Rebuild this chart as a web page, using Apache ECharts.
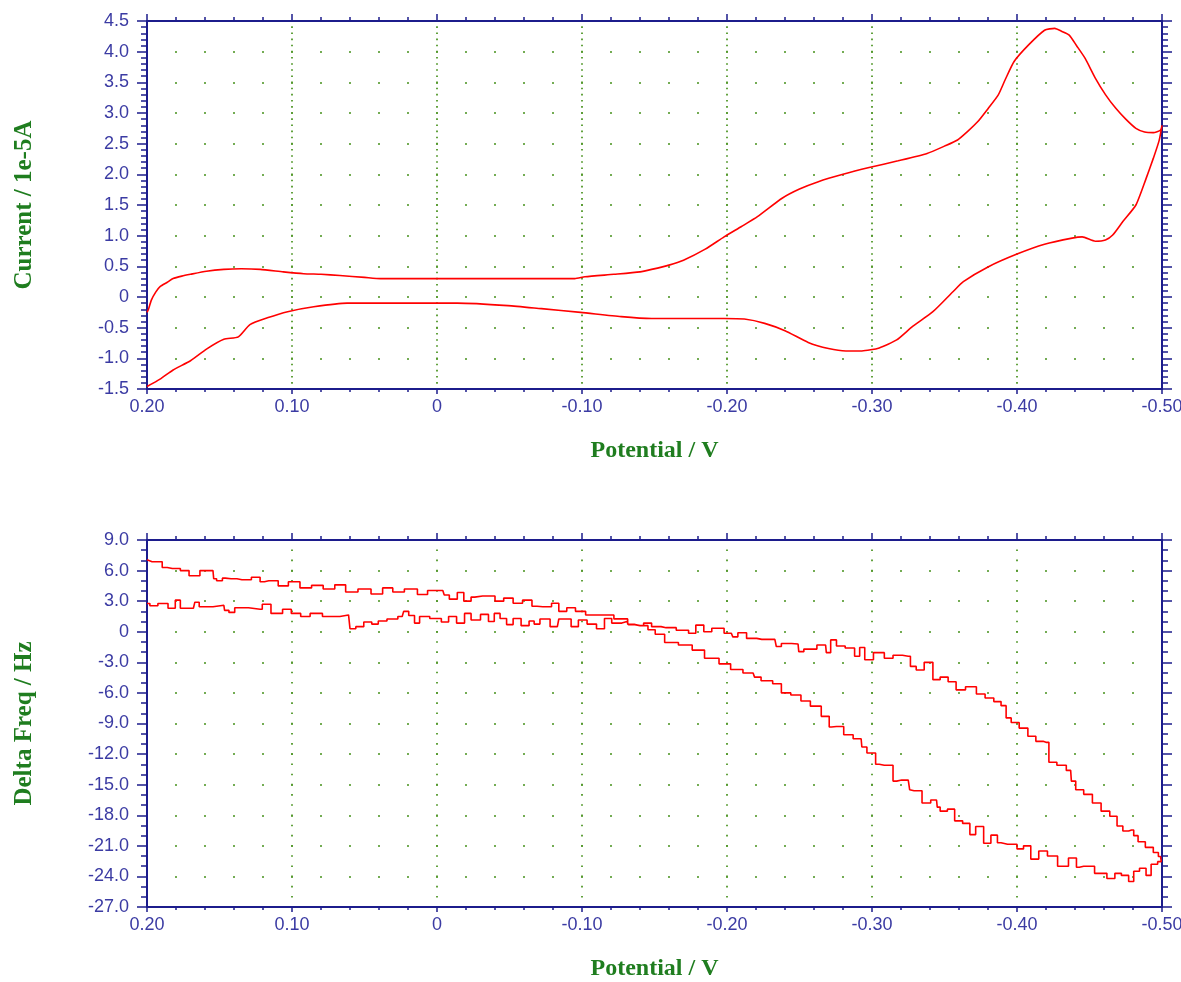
<!DOCTYPE html>
<html>
<head>
<meta charset="utf-8">
<script src="https://cdn.jsdelivr.net/npm/echarts@6/dist/echarts.min.js"></script>
<style>
html,body{margin:0;padding:0;background:#ffffff;}
#chart{width:1181px;height:982px;}
</style>
</head>
<body>
<div id="chart"></div>
<script>
// ---- Data: potential (V) and current (1e-5 A), cyclic voltammogram ----
const cvForward = [
  [0.200,-0.25],[0.199,-0.20],[0.197,-0.05],[0.194,0.08],[0.191,0.17],[0.186,0.24],[0.182,0.30],
  [0.176,0.34],[0.170,0.37],[0.159,0.42],[0.147,0.45],[0.135,0.46],[0.122,0.45],[0.106,0.41],
  [0.092,0.38],[0.080,0.37],[0.067,0.35],[0.050,0.32],[0.039,0.30],[-0.003,0.30],[-0.050,0.30],
  [-0.095,0.30],[-0.102,0.33],[-0.122,0.37],[-0.140,0.41],[-0.148,0.45],[-0.160,0.52],[-0.170,0.60],
  [-0.185,0.78],[-0.198,0.98],[-0.210,1.15],[-0.221,1.31],[-0.238,1.61],[-0.250,1.76],[-0.263,1.88],
  [-0.280,2.00],[-0.298,2.11],[-0.318,2.22],[-0.338,2.34],[-0.350,2.46],[-0.359,2.56],[-0.366,2.70],
  [-0.373,2.86],[-0.380,3.07],[-0.387,3.29],[-0.392,3.55],[-0.398,3.84],[-0.408,4.11],[-0.419,4.35],
  [-0.426,4.38],[-0.431,4.33],[-0.436,4.27],[-0.441,4.10],[-0.447,3.89],[-0.454,3.57],[-0.461,3.30],
  [-0.468,3.08],[-0.475,2.90],[-0.482,2.75],[-0.488,2.69],[-0.494,2.68],[-0.499,2.72],[-0.500,2.80]
];
const cvReverse = [
  [-0.498,2.55],[-0.494,2.26],[-0.489,1.93],[-0.482,1.50],[-0.473,1.23],[-0.466,1.01],[-0.461,0.93],
  [-0.454,0.91],[-0.445,0.98],[-0.438,0.96],[-0.419,0.86],[-0.400,0.70],[-0.380,0.49],[-0.363,0.25],
  [-0.356,0.09],[-0.342,-0.24],[-0.328,-0.48],[-0.317,-0.70],[-0.305,-0.83],[-0.293,-0.88],
  [-0.282,-0.88],[-0.270,-0.84],[-0.256,-0.74],[-0.240,-0.55],[-0.226,-0.43],[-0.212,-0.36],
  [-0.198,-0.35],[-0.148,-0.35],[-0.127,-0.32],[-0.099,-0.25],[-0.072,-0.19],[-0.049,-0.14],
  [-0.014,-0.10],[0.062,-0.10],[0.085,-0.16],[0.103,-0.24],[0.117,-0.34],[0.129,-0.45],[0.137,-0.65],
  [0.147,-0.69],[0.159,-0.85],[0.170,-1.04],[0.182,-1.19],[0.191,-1.34],[0.200,-1.46]
];
// ---- Data: potential (V) and delta frequency (Hz), QCM ----
const dfForward = [
  [0.200,2.77],[0.196,2.55],[0.189,2.77],[0.182,2.3],[0.179,3.1],[0.175,2.3],[0.168,2.3],[0.166,2.9],
  [0.162,2.45],[0.147,2.6],[0.146,2.1],[0.141,1.9],[0.138,2.35],[0.122,2.2],[0.119,2.7],[0.110,1.8],
  [0.103,2.2],[0.098,1.8],[0.090,1.5],[0.085,1.8],[0.073,1.5],[0.061,1.65],[0.059,0.3],[0.053,0.5],
  [0.048,0.95],[0.042,0.75],[0.039,1.05],[0.030,1.25],[0.024,1.5],[0.022,2.0],[0.017,1.6],[0.014,0.85],
  [0.010,1.5],[0.000,1.3],[-0.006,0.95],[-0.010,1.5],[-0.017,0.85],[-0.021,1.8],[-0.026,1.15],
  [-0.034,1.7],[-0.037,1.0],[-0.042,1.8],[-0.045,1.3],[-0.051,0.7],[-0.054,1.3],[-0.062,0.6],
  [-0.065,1.05],[-0.069,0.75],[-0.073,1.25],[-0.083,0.5],[-0.085,1.25],[-0.091,1.25],[-0.094,0.5],
  [-0.101,1.15],[-0.106,0.75],[-0.114,0.3],[-0.117,1.3],[-0.124,0.85],[-0.131,1.0],[-0.133,0.7],
  [-0.140,0.6],[-0.145,0.85],[-0.151,0.5],[-0.158,0.4],[-0.172,0.15],[-0.175,-0.15],[-0.182,0.65],
  [-0.186,0.0],[-0.193,0.35],[-0.203,-0.15],[-0.205,-0.5],[-0.210,-0.1],[-0.217,-0.65],[-0.224,-0.75],
  [-0.233,-0.75],[-0.235,-1.45],[-0.240,-1.15],[-0.249,-1.2],[-0.250,-1.95],[-0.256,-1.7],[-0.268,-1.3],
  [-0.269,-2.05],[-0.274,-0.8],[-0.277,-1.4],[-0.286,-1.6],[-0.290,-2.4],[-0.293,-1.55],[-0.297,-2.75],
  [-0.305,-2.05],[-0.312,-2.6],[-0.317,-2.3],[-0.325,-2.4],[-0.328,-3.4],[-0.333,-3.75],[-0.339,-3.0],
  [-0.345,-4.7],[-0.349,-4.45],[-0.356,-4.9],[-0.360,-5.7],[-0.369,-5.4],[-0.375,-6.1],[-0.381,-6.5],
  [-0.387,-6.85],[-0.391,-7.25],[-0.394,-8.45],[-0.398,-8.9],[-0.405,-9.45],[-0.410,-10.25],
  [-0.416,-10.75],[-0.420,-10.85],[-0.424,-12.8],[-0.431,-13.1],[-0.437,-13.6],[-0.438,-14.65],
  [-0.443,-15.5],[-0.449,-15.95],[-0.455,-16.8],[-0.461,-17.6],[-0.467,-18.1],[-0.471,-19.05],
  [-0.475,-19.55],[-0.479,-19.45],[-0.482,-20.0],[-0.485,-20.6],[-0.492,-21.15],[-0.496,-21.65],
  [-0.499,-22.05],[-0.500,-22.55]
];
const dfReverse = [
  [-0.494,-22.8],[-0.491,-23.9],[-0.487,-23.2],[-0.482,-23.5],[-0.479,-24.5],[-0.475,-23.9],
  [-0.469,-23.7],[-0.466,-24.2],[-0.458,-23.7],[-0.449,-23.0],[-0.443,-23.1],[-0.439,-22.2],
  [-0.432,-23.0],[-0.424,-22.0],[-0.418,-21.5],[-0.412,-22.3],[-0.407,-21.0],[-0.402,-21.3],
  [-0.398,-20.85],[-0.389,-20.7],[-0.384,-19.95],[-0.380,-20.75],[-0.374,-19.1],[-0.369,-19.9],
  [-0.366,-18.8],[-0.359,-18.55],[-0.355,-17.4],[-0.349,-17.6],[-0.345,-17.2],[-0.344,-16.5],
  [-0.337,-16.8],[-0.332,-15.6],[-0.326,-15.5],[-0.324,-14.55],[-0.317,-14.65],[-0.312,-13.1],
  [-0.305,-13.0],[-0.300,-11.9],[-0.293,-11.3],[-0.292,-10.5],[-0.282,-10.1],[-0.279,-9.3],
  [-0.272,-9.35],[-0.269,-8.3],[-0.261,-7.3],[-0.254,-6.8],[-0.248,-6.2],[-0.240,-6.0],[-0.235,-5.1],
  [-0.228,-4.8],[-0.219,-4.45],[-0.217,-4.05],[-0.205,-3.7],[-0.200,-3.15],[-0.189,-2.6],[-0.180,-1.8],
  [-0.172,-1.3],[-0.161,-1.05],[-0.153,-0.25],[-0.148,0.2],[-0.143,0.6],[-0.136,0.74],[-0.127,1.26],
  [-0.117,1.65],[-0.106,1.65],[-0.099,2.0],[-0.092,2.35],[-0.087,2.0],[-0.081,2.8],[-0.077,2.45],
  [-0.069,2.5],[-0.062,3.1],[-0.056,2.8],[-0.049,3.3],[-0.043,3.0],[-0.037,3.5],[-0.026,3.4],
  [-0.021,3.0],[-0.016,3.85],[-0.012,3.2],[-0.005,3.6],[-0.003,4.05],[0.004,4.05],[0.009,3.65],
  [0.018,4.2],[0.027,3.9],[0.034,4.3],[0.041,3.7],[0.050,4.2],[0.059,3.9],[0.067,4.6],[0.074,4.2],
  [0.083,4.55],[0.090,4.3],[0.099,4.9],[0.106,4.5],[0.113,5.0],[0.119,4.9],[0.125,5.35],[0.131,5.1],
  [0.138,5.2],[0.146,5.26],[0.150,5.0],[0.154,5.2],[0.155,6.0],[0.160,6.0],[0.167,5.5],[0.175,6.0],
  [0.179,6.2],[0.186,6.3],[0.193,6.87],[0.200,7.06]
];
// ---- Axis ranges / titles ----
const potentialRange = [-0.5, 0.2, 0.1];
const currentRange = [-1.5, 4.5, 0.5];
const freqRange = [-27, 9, 3];
const titles = {x: 'Potential / V', yTop: 'Current / 1e-5A', yBottom: 'Delta Freq / Hz'};

const AXIS = '#1c1c8c', LBL = '#3b3ba3', DOT = '#52982a', TITLE = '#1f7d1f', RED = '#ff0000';
const labelStyle = {fontFamily: '"Liberation Sans Narrow","Arial Narrow","Liberation Sans",Arial,sans-serif', fontSize: 18, color: LBL};
const nameStyle = {fontFamily: '"Liberation Serif","Times New Roman",serif', fontWeight: 'bold', fontSize: 24, color: TITLE};
const fmt = d => v => Math.abs(v) < 1e-9 ? '0' : v.toFixed(d);

const GRIDS = [
  {left: 147, top: 21, width: 1015, height: 368, ySplit: 5, yR: currentRange},
  {left: 147, top: 540, width: 1015, height: 367, ySplit: 3, yR: freqRange}
];

const xAxes = [], yAxes = [];
GRIDS.forEach((g, gi) => {
  const nY = Math.round((g.yR[1] - g.yR[0]) / g.yR[2]);
  const minorY = g.height / (nY * g.ySplit);
  const minorX = g.width / (Math.round((potentialRange[1] - potentialRange[0]) / potentialRange[2]) * 5);
  xAxes.push({
    type: 'value', gridIndex: gi, position: 'bottom', inverse: true,
    min: potentialRange[0], max: potentialRange[1], interval: potentialRange[2],
    axisLine: {show: true, onZero: false, lineStyle: {color: AXIS, width: 2}},
    axisTick: {show: true, length: 5, lineStyle: {color: AXIS, width: 1.5}},
    minorTick: {show: true, splitNumber: 5, length: 3, lineStyle: {color: AXIS, width: 1.5}},
    axisLabel: Object.assign({show: true, margin: 9, formatter: fmt(2), showMinLabel: true, showMaxLabel: true, hideOverlap: false}, labelStyle),
    splitLine: {show: true, showMinLine: false, showMaxLine: false,
      lineStyle: {color: DOT, width: 1.8, type: [1.6, minorY - 1.6], dashOffset: 0.8}},
    minorSplitLine: {show: false},
    name: titles.x, nameLocation: 'middle', nameGap: 50, nameTextStyle: nameStyle
  });
  xAxes.push({
    type: 'value', gridIndex: gi, position: 'top', inverse: true,
    min: potentialRange[0], max: potentialRange[1], interval: potentialRange[2],
    axisLine: {show: true, onZero: false, lineStyle: {color: AXIS, width: 2}},
    axisTick: {show: true, length: 7, lineStyle: {color: AXIS, width: 1.5}},
    minorTick: {show: true, splitNumber: 5, length: 4, lineStyle: {color: AXIS, width: 1.5}},
    axisLabel: {show: false}, splitLine: {show: false}
  });
  yAxes.push({
    type: 'value', gridIndex: gi, position: 'left',
    min: g.yR[0], max: g.yR[1], interval: g.yR[2],
    axisLine: {show: true, onZero: false, lineStyle: {color: AXIS, width: 2}},
    axisTick: {show: true, length: 10, lineStyle: {color: AXIS, width: 1.5}},
    minorTick: {show: true, splitNumber: g.ySplit, length: 6, lineStyle: {color: AXIS, width: 1.5}},
    axisLabel: Object.assign({show: true, margin: 18, formatter: fmt(1), showMinLabel: true, showMaxLabel: true, hideOverlap: false}, labelStyle),
    splitLine: {show: true, showMinLine: false, showMaxLine: false,
      lineStyle: {color: DOT, width: 1.8, type: [1.6, minorX - 1.6], dashOffset: 0.8}},
    name: gi === 0 ? titles.yTop : titles.yBottom, nameLocation: 'middle', nameRotate: 90,
    nameGap: gi === 0 ? 110 : 110,
    nameTextStyle: Object.assign({}, nameStyle, {fontSize: 25})
  });
  yAxes.push({
    type: 'value', gridIndex: gi, position: 'right',
    min: g.yR[0], max: g.yR[1], interval: g.yR[2],
    axisLine: {show: true, onZero: false, lineStyle: {color: AXIS, width: 2}},
    axisTick: {show: true, length: 10, lineStyle: {color: AXIS, width: 1.5}},
    minorTick: {show: true, splitNumber: g.ySplit, length: 6, lineStyle: {color: AXIS, width: 1.5}},
    axisLabel: {show: false}, splitLine: {show: false}
  });
});

const chart = echarts.init(document.getElementById('chart'), null, {renderer: 'canvas'});
chart.setOption({
  animation: false,
  backgroundColor: '#ffffff',
  grid: GRIDS.map(g => ({left: g.left, top: g.top, width: g.width, height: g.height, containLabel: false, outerBoundsMode: 'none'})),
  xAxis: xAxes,
  yAxis: yAxes,
  series: [
    {type: 'line', xAxisIndex: 0, yAxisIndex: 0, data: cvForward.concat(cvReverse), smooth: 0.2,
      showSymbol: false, symbol: 'none', lineStyle: {color: RED, width: 1.6}, z: 5},
    {type: 'line', xAxisIndex: 2, yAxisIndex: 2, data: dfForward.concat(dfReverse), step: 'middle',
      showSymbol: false, symbol: 'none', lineStyle: {color: RED, width: 1.6}, z: 5}
  ]
});
</script>
</body>
</html>
